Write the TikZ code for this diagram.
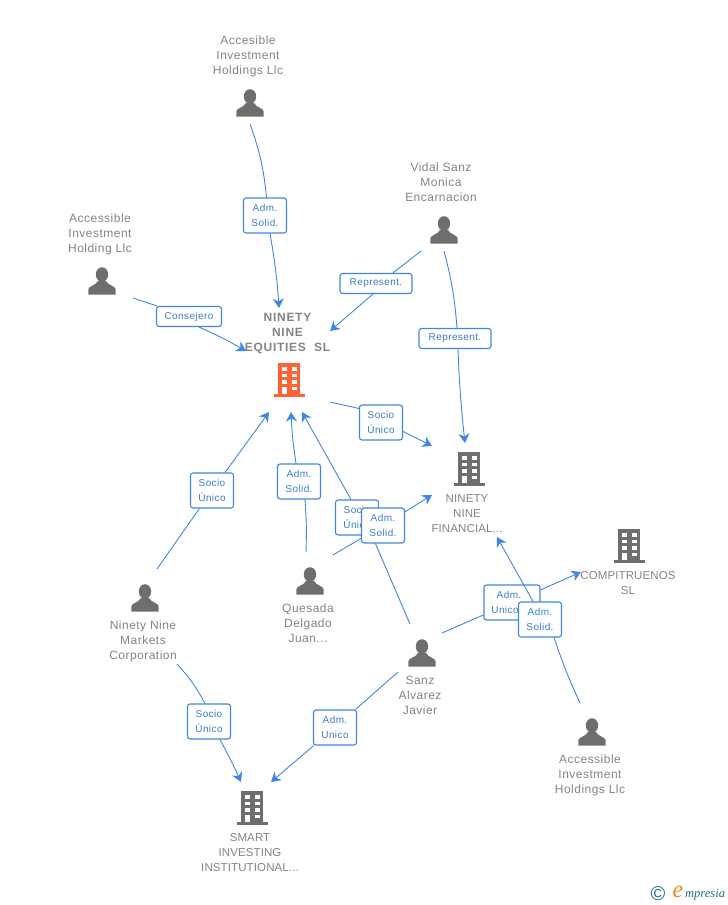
\documentclass[tikz,border=0pt]{standalone}
\usepackage{fontspec}
\usetikzlibrary{arrows.meta}
\setmainfont{Liberation Sans}
\newfontfamily\namefont[LetterSpace=4]{Liberation Sans}
\newfontfamily\capsfont[LetterSpace=1]{Liberation Sans}
\newfontfamily\namebold[LetterSpace=6]{Liberation Sans Bold}
\newfontfamily\relfont[LetterSpace=4]{Liberation Sans}
\newfontfamily\logofont{Liberation Serif Italic}
\definecolor{linkblue}{HTML}{3F86E4}
\definecolor{relblue}{HTML}{3A7BD5}
\definecolor{namegray}{HTML}{838383}
\definecolor{icongray}{HTML}{6E6E6E}
\definecolor{iconorange}{HTML}{FF6233}
\definecolor{logoteal}{HTML}{1F6E86}
\definecolor{logoorange}{HTML}{F28A1E}
\tikzset{
  entityname/.style={text=namegray,align=center,inner sep=0pt,font=\namefont\fontsize{12}{15}\selectfont},
  capsname/.style={entityname,font=\capsfont\fontsize{11.5}{15}\selectfont},
  relbox/.style={draw=linkblue,line width=1.1pt,fill=white,rounded corners=2.5pt,inner sep=0pt,text=relblue,align=center,font=\relfont\fontsize{10}{15}\selectfont},
  tworel/.style={relbox,minimum width=43pt,minimum height=35pt},
  onerel/.style={relbox,minimum height=20pt},
  link/.style={linkblue,line width=0.9pt},
  linkto/.style={link,-{Stealth[length=9.5pt,width=11pt,inset=3pt]}},
  personicon/.pic={
    \fill[icongray] (0,-6.5) ellipse (6.2 and 7.3);
    \fill[icongray] (-13.7,13.5) -- (-13.7,8.5) .. controls (-13.7,5) and (-6,4.5) .. (-4,0) -- (4,0) .. controls (6,4.5) and (13.7,5) .. (13.7,8.5) -- (13.7,13.5) -- cycle;
  },
  buildingicon/.pic={
    \fill[#1] (-11,-17) rectangle (11,14);
    \fill[#1] (-15.5,13.5) rectangle (15.5,17);
    \foreach \rowy in {-13,-6.5,0} {
      \fill[white] (-7,\rowy) rectangle (-2.5,\rowy+3.8);
      \fill[white] (2.5,\rowy) rectangle (7.5,\rowy+3.8);
    }
    \fill[white] (2.5,6.5) rectangle (7.5,10.3);
    \fill[white] (-7,6.5) rectangle (-2.5,13.5);
  },
}
\begin{document}
\begin{tikzpicture}[x=1pt,y=-1pt]
\useasboundingbox (0,0) rectangle (728,905);
\pic at (250,103) {personicon};
\pic at (444,230) {personicon};
\pic at (102,281) {personicon};
\pic at (145,598) {personicon};
\pic at (310,581) {personicon};
\pic at (422,653) {personicon};
\pic at (592,732) {personicon};
\pic at (289,380) {buildingicon=iconorange};
\pic at (469,469) {buildingicon=icongray};
\pic at (629,546) {buildingicon=icongray};
\pic at (252,808) {buildingicon=icongray};
\node[entityname] (accesibleName) at (248,56) {Accesible\\Investment\\Holdings Llc};
\node[entityname] (vidalName) at (441,182) {Vidal Sanz\\Monica\\Encarnacion};
\node[entityname] (holdingName) at (100,234) {Accessible\\Investment\\Holding Llc};
\node[entityname,font=\namebold\fontsize{12}{15}\selectfont] (equitiesName) at (287.5,334) {NINETY\\NINE\\EQUITIES\ \ SL};
\node[capsname] (financialName) at (467,514) {NINETY\\NINE\\FINANCIAL...};
\node[capsname] (compitruenosName) at (628,583) {COMPITRUENOS\\SL};
\node[entityname] (marketsName) at (143,641) {Ninety Nine\\Markets\\Corporation};
\node[entityname] (quesadaName) at (308,623) {Quesada\\Delgado\\Juan...};
\node[entityname] (sanzName) at (420,695) {Sanz\\Alvarez\\Javier};
\node[entityname] (holdingsName) at (590,775) {Accessible\\Investment\\Holdings Llc};
\node[capsname] (smartName) at (250,853) {SMART\\INVESTING\\INSTITUTIONAL...};
\coordinate (accesibleOut) at (250,124);
\coordinate (equitiesTop) at (279,308);
\coordinate (holdingOut) at (133,298);
\coordinate (equitiesLeft) at (246,351);
\coordinate (vidalLeft) at (421,251);
\coordinate (equitiesRight) at (330,331);
\coordinate (vidalDown) at (444,251);
\coordinate (financialTop) at (465,443);
\coordinate (equitiesOut) at (330,402);
\coordinate (financialUp) at (432,446);
\coordinate (marketsUp) at (157,569);
\coordinate (equitiesLow) at (269,412);
\coordinate (quesadaUp) at (306,552);
\coordinate (equitiesMid) at (291,412);
\coordinate (sanzUp) at (410,624);
\coordinate (equitiesNear) at (302,412);
\coordinate (quesadaOut) at (333,555);
\coordinate (financialLeft) at (432,495);
\coordinate (sanzRight) at (442,633);
\coordinate (compitruenosIn) at (581,572);
\coordinate (holdingsUp) at (580,703);
\coordinate (financialLow) at (497,537);
\coordinate (marketsDown) at (177,664);
\coordinate (smartLeft) at (241,782);
\coordinate (sanzDown) at (398,672);
\coordinate (smartRight) at (271,782);
\node[tworel] (accesibleRel) at (265,215.5) {Adm.\\Solid.};
\draw[link] (accesibleOut) to[bend left=7] ([xshift=1.5pt]accesibleRel.north);
\draw[linkto] ([xshift=5pt]accesibleRel.south) to[bend left=3] (equitiesTop);
\node[onerel,minimum width=65pt] (holdingRel) at (189,316.5) {Consejero};
\draw[link] (holdingOut) -- (holdingRel);
\draw[linkto] ([xshift=10pt]holdingRel.south) to[bend left=3] (equitiesLeft);
\node[onerel,minimum width=72pt] (vidalRel) at (376,283.5) {Represent.};
\draw[link] (vidalLeft) -- ([xshift=17pt]vidalRel.north);
\draw[linkto] ([xshift=-3pt]vidalRel.south) -- (equitiesRight);
\node[onerel,minimum width=72pt] (vidalFinRel) at (455,338.5) {Represent.};
\draw[link] (vidalDown) to[bend left=5] ([xshift=2pt]vidalFinRel.north);
\draw[linkto] ([xshift=3pt]vidalFinRel.south) to[bend right=2] (financialTop);
\node[tworel] (financialRel) at (381,422.5) {Socio\\Único};
\draw[link] (equitiesOut) -- ([yshift=14pt]financialRel.west);
\draw[linkto] ([yshift=-9pt]financialRel.east) -- (financialUp);
\node[tworel] (marketsRel) at (212,490.5) {Socio\\Único};
\draw[link] (marketsUp) -- (marketsRel);
\draw[linkto] (marketsRel) -- (equitiesLow);
\node[tworel] (quesadaRel) at (299,481.5) {Adm.\\Solid.};
\draw[link] (quesadaUp) to[bend right=3] ([xshift=6pt]quesadaRel.south);
\draw[linkto] ([xshift=-3pt]quesadaRel.north) to[bend left=3] (equitiesMid);
\node[tworel] (sanzRel) at (357,517.5) {Socio\\Único};
\draw[link] (sanzUp) -- ([xshift=15pt]sanzRel.south);
\draw[linkto] ([xshift=-6pt]sanzRel.north) -- (equitiesNear);
\node[tworel] (quesadaFinRel) at (383,525.5) {Adm.\\Solid.};
\draw[link] (quesadaOut) -- (quesadaFinRel);
\draw[linkto] (quesadaFinRel) -- (financialLeft);
\node[tworel,minimum width=56pt] (sanzCompRel) at (512,602.5) {Adm.\hspace*{6pt}\\Unico\hspace*{14pt}};
\draw[link] (sanzRight) -- (sanzCompRel);
\draw[linkto] (sanzCompRel) -- (compitruenosIn);
\node[tworel] (holdingsRel) at (540,619.5) {Adm.\\Solid.};
\draw[link] (holdingsUp) to[bend left=3] ([xshift=14pt]holdingsRel.south);
\draw[linkto] ([xshift=-7pt]holdingsRel.north) -- (financialLow);
\node[tworel] (marketsSmartRel) at (209,721.5) {Socio\\Único};
\draw[link] (marketsDown) to[bend left=7] ([xshift=-4pt]marketsSmartRel.north);
\draw[linkto] ([xshift=11pt]marketsSmartRel.south) to[bend left=2] (smartLeft);
\node[tworel] (sanzSmartRel) at (335,727.5) {Adm.\\Unico};
\draw[link] (sanzDown) -- (sanzSmartRel);
\draw[linkto] (sanzSmartRel) -- (smartRight);
\node[text=logoteal,inner sep=0pt,font=\fontsize{20}{20}\selectfont] (logoMark) at (658,894) {©};
\node[text=logoorange,inner sep=0pt,font=\logofont\fontsize{24}{24}\selectfont] (logoE) at (678,892) {e};
\node[text=logoteal,inner sep=0pt,anchor=west,font=\logofont\fontsize{12.5}{14}\selectfont] (logoText) at (685,895) {mpresia};
\end{tikzpicture}
\end{document}
